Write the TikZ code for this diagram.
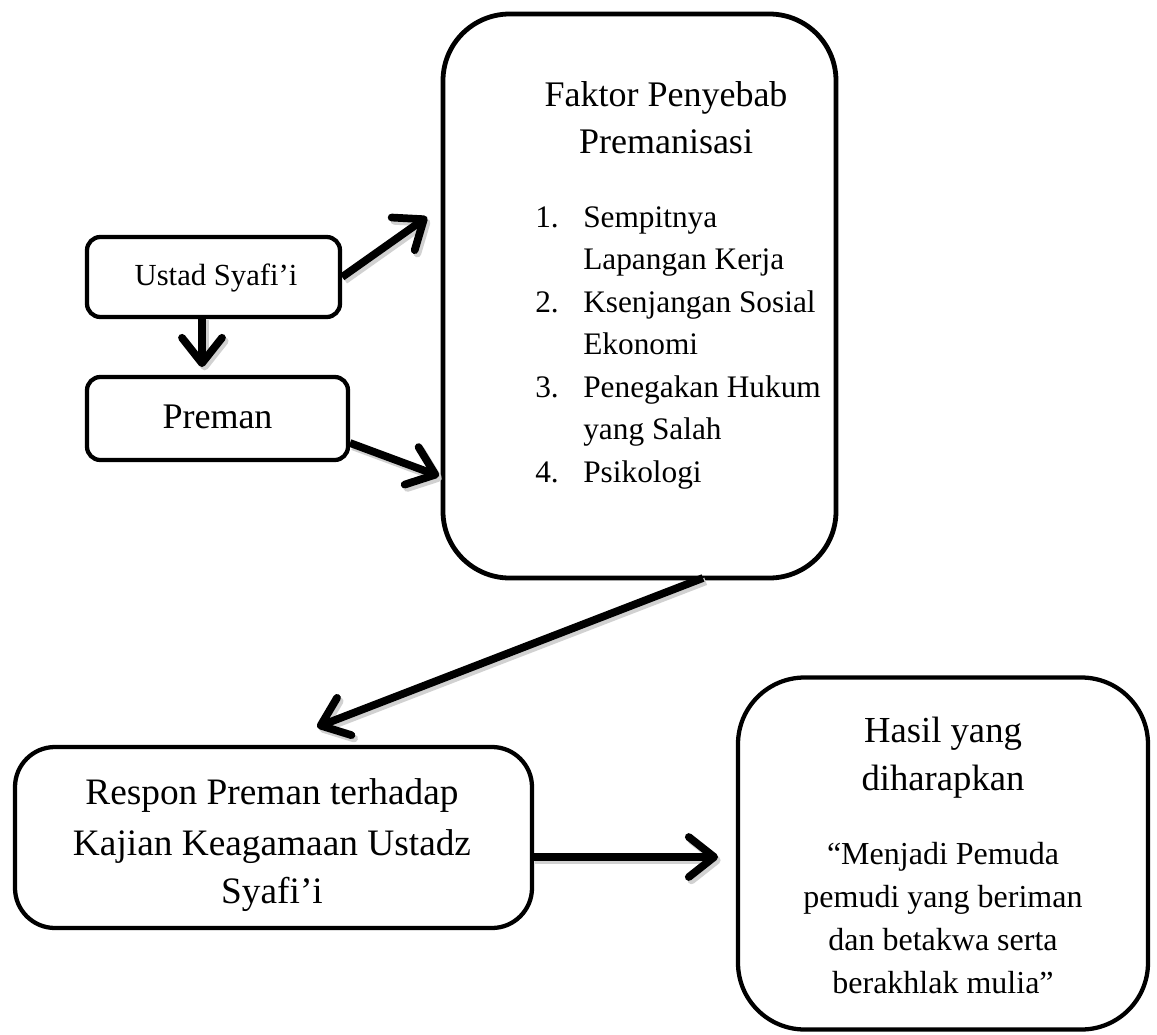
\documentclass[tikz,border=0pt]{standalone}
\usepackage{fontspec}
\setmainfont{Liberation Serif}
\usetikzlibrary{arrows.meta}
\begin{document}
\begin{tikzpicture}[x=0.75pt,y=-0.75pt,
  box/.style={draw, line width=3.2pt, inner sep=0pt},
  t/.style={inner sep=0pt, anchor=base},
  tl/.style={inner sep=0pt, anchor=base west},
  fs/.style={font=\fontsize{#1pt}{#1pt}\selectfont},
  conn/.style={line width=5.8pt, -{Straight Barb[length=19pt,width=30pt,round]}},
  shadowed/.style={conn, draw=black!18, transform canvas={shift={(2pt,-2.5pt)}}}]
\useasboundingbox (0,0) rectangle (1157,1035);
% boxes
\node[box, rounded corners=10pt, minimum width=189.75pt, minimum height=60pt] (ustad) at (213.5,277) {};
\node[box, rounded corners=10pt, minimum width=195.75pt, minimum height=62.25pt] (preman) at (217.5,418.5) {};
\node[box, line width=3.6pt, rounded corners=50pt, minimum width=294.75pt, minimum height=423pt] (faktor) at (639.5,296) {};
\node[box, rounded corners=30pt, minimum width=387.75pt, minimum height=135.75pt] (respon) at (273.5,837.5) {};
\node[box, rounded corners=50pt, minimum width=307.5pt, minimum height=264pt] (hasil) at (943,853.5) {};
% texts
\node[t, fs=23] (tustad) at (216,285) {Ustad Syafi’i};
\node[t, fs=27] (tpreman) at (217.5,428) {Preman};
\node[t, fs=27] (fh1) at (666,106) {Faktor Penyebab};
\node[t, fs=27] (fh2) at (666,153) {Premanisasi};
\node[tl, fs=23.5] (n1) at (535,227) {1.};
\node[tl, fs=23.5] (l1) at (583,227) {Sempitnya};
\node[tl, fs=23.5] (l2) at (583,269.5) {Lapangan Kerja};
\node[tl, fs=23.5] (n2) at (535,312) {2.};
\node[tl, fs=23.5] (l3) at (583,312) {Ksenjangan Sosial};
\node[tl, fs=23.5] (l4) at (583,354.5) {Ekonomi};
\node[tl, fs=23.5] (n3) at (535,397) {3.};
\node[tl, fs=23.5] (l5) at (583,397) {Penegakan Hukum};
\node[tl, fs=23.5] (l6) at (583,439.5) {yang Salah};
\node[tl, fs=23.5] (n4) at (535,482) {4.};
\node[tl, fs=23.5] (l7) at (583,482) {Psikologi};
\node[t, fs=28] (r1) at (272,804) {Respon Preman terhadap};
\node[t, fs=28] (r2) at (272,855) {Kajian Keagamaan Ustadz};
\node[t, fs=28] (r3) at (272,903) {Syafi’i};
\node[t, fs=27.5] (h1) at (943,742) {Hasil yang};
\node[t, fs=27.5] (h2) at (943,790) {diharapkan};
\node[t, fs=24] (b1) at (943,864) {“Menjadi Pemuda};
\node[t, fs=24] (b2) at (943,907) {pemudi yang beriman};
\node[t, fs=24] (b3) at (943,950) {dan betakwa serta};
\node[t, fs=24] (b4) at (943,993) {berakhlak mulia”};
% connector end points
\coordinate (e1) at (427,217);
\coordinate (s2) at (202,317);
\coordinate (e2) at (202,367);
\coordinate (s3) at (350,443);
\coordinate (e3) at (439,476);
\coordinate (s4) at (703,578);
\coordinate (e4) at (317,727);
\coordinate (s5) at (532,857);
\coordinate (e5) at (718,857);
% soft shadows of connectors
\draw[shadowed] (ustad.east) -- (e1);
\draw[shadowed] (s2) -- (e2);
\draw[shadowed] (s3) -- (e3);
\draw[shadowed] (s4) -- (e4);
\draw[shadowed] (s5) -- (e5);
% connectors
\draw[conn] (ustad.east) -- (e1);
\draw[conn] (s2) -- (e2);
\draw[conn] (s3) -- (e3);
\draw[conn] (s4) -- (e4);
\draw[conn] (s5) -- (e5);
\end{tikzpicture}
\end{document}
